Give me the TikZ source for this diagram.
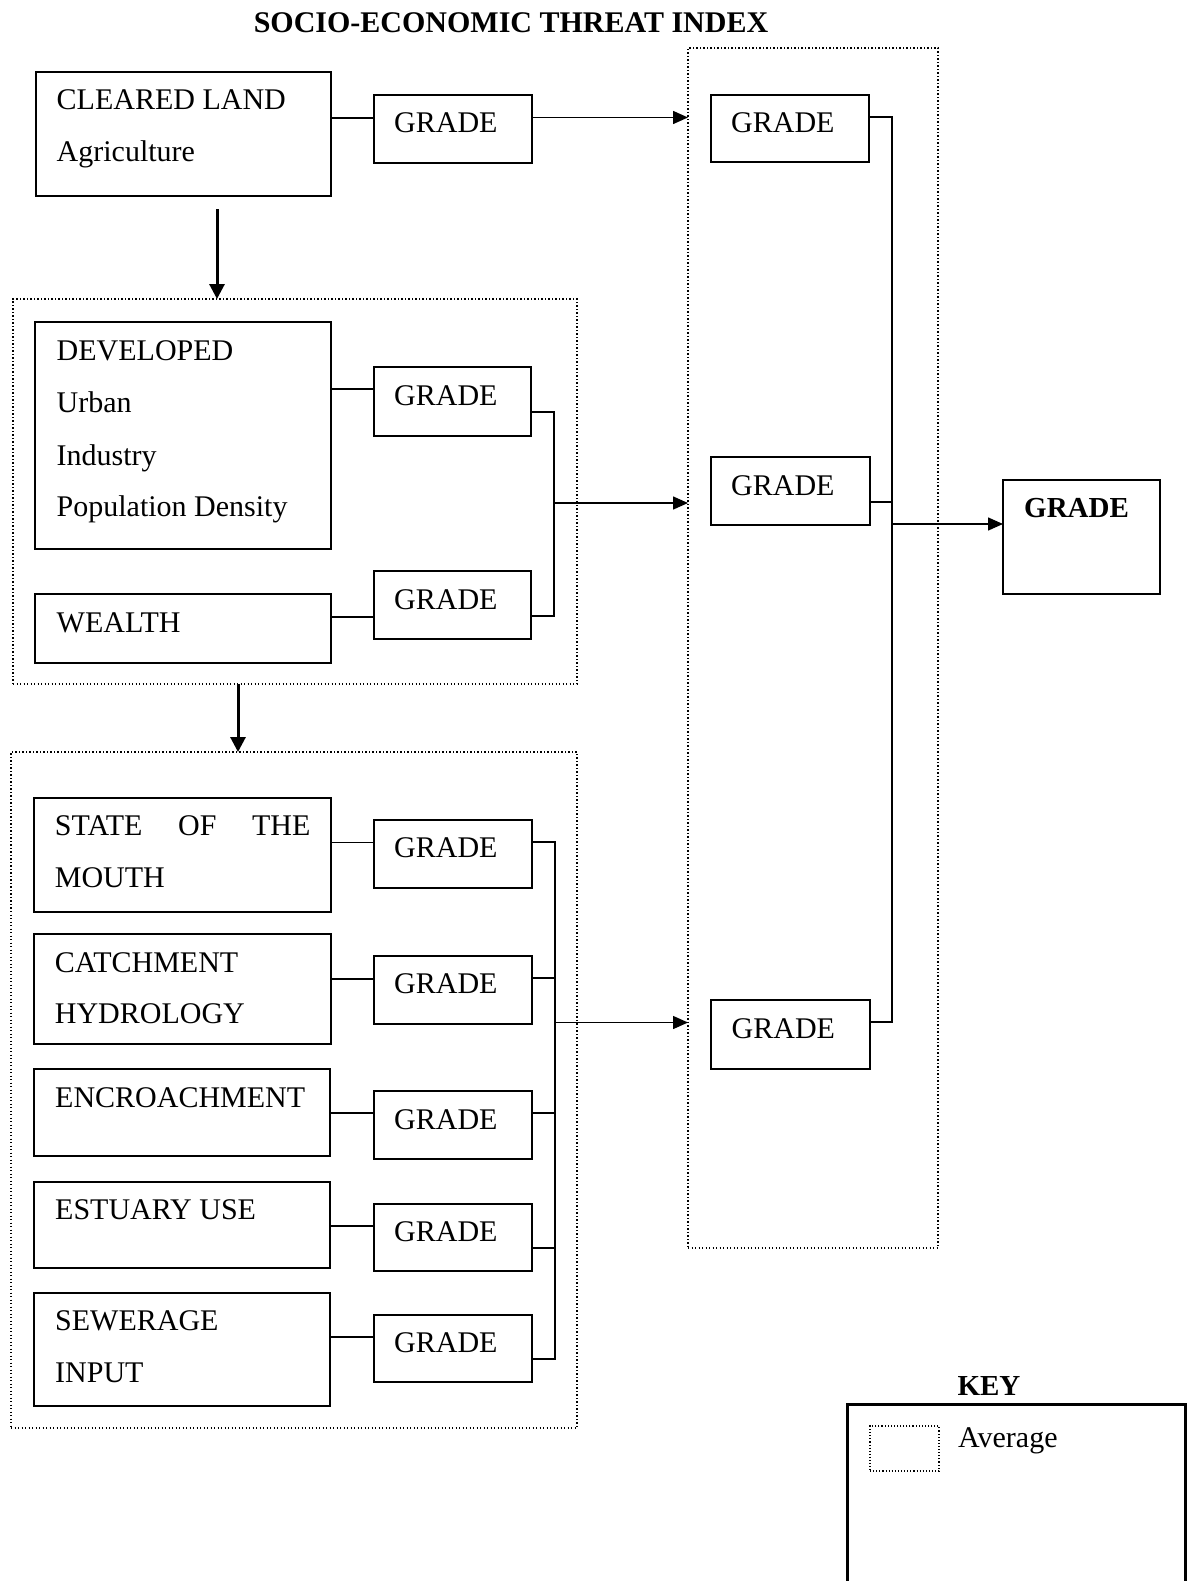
\documentclass[tikz,border=0pt]{standalone}
\usepackage{fontspec}
\setmainfont{Liberation Serif}
\usetikzlibrary{arrows.meta}
\begin{document}
\begin{tikzpicture}[x=1pt,y=-1pt,
  box/.style={draw,line width=1.5pt,rectangle,inner sep=0pt,outer sep=0pt,anchor=north west},
  avgbox/.style={draw,line width=1.8pt,dash pattern=on 1.3pt off 2.2pt,rectangle,inner sep=0pt,outer sep=0pt,anchor=north west},
  txt/.style={anchor=base west,inner sep=0pt,font=\fontsize{30}{36}\selectfont},
  btxt/.style={anchor=base west,inner sep=0pt,font=\fontsize{29}{34}\selectfont\bfseries},
  conn/.style={line width=1.5pt},
  arr/.style={line width=1.5pt,-{Triangle[length=15pt,width=13pt]}},
  tharr/.style={line width=3pt,-{Triangle[length=15pt,width=15pt]}}
]
\useasboundingbox (0,0) rectangle (1190,1581);
\fill[white] (0,0) rectangle (1190,1581);

% title
\node[btxt,anchor=base,font=\fontsize{30}{36}\selectfont\bfseries] (title) at (511,33) {SOCIO-ECONOMIC THREAT INDEX};

% average (dotted) boxes
\node[avgbox,minimum width=564pt,minimum height=385pt] (av1) at (13,299) {};
\node[avgbox,minimum width=566pt,minimum height=676pt] (av2) at (11,752) {};
\node[avgbox,minimum width=250pt,minimum height=1200pt] (av3) at (688,48) {};

% left boxes
\node[box,minimum width=295pt,minimum height=124pt] (cl) at (36,72) {};
\node[txt] (clt1) at (56.5,110) {CLEARED LAND};
\node[txt] (clt2) at (56.5,162) {Agriculture};
\node[box,minimum width=158pt,minimum height=68pt] (g1) at (374,95) {};
\node[txt] (g1t) at (394,133) {GRADE};

\node[box,minimum width=296pt,minimum height=227pt] (dev) at (35,322) {};
\node[txt] (devt1) at (56.5,360) {DEVELOPED};
\node[txt] (devt2) at (56.5,412) {Urban};
\node[txt] (devt3) at (56.5,465) {Industry};
\node[txt] (devt4) at (56.5,516) {Population Density};
\node[box,minimum width=157pt,minimum height=69pt] (g2) at (374,367) {};
\node[txt] (g2t) at (394,405.5) {GRADE};

\node[box,minimum width=296pt,minimum height=69pt] (wl) at (35,594) {};
\node[txt] (wlt) at (56.5,632) {WEALTH};
\node[box,minimum width=157pt,minimum height=68pt] (g3) at (374,571) {};
\node[txt] (g3t) at (394,609) {GRADE};

\node[box,minimum width=297pt,minimum height=114pt] (st) at (34,798) {};
\node[txt] (stt1) at (54.7,835) {\makebox[255.5pt][s]{STATE\hfill OF\hfill THE}};
\node[txt] (stt2) at (54.7,887) {MOUTH};
\node[box,minimum width=158pt,minimum height=68pt] (g4) at (374,820) {};
\node[txt] (g4t) at (394,857) {GRADE};

\node[box,minimum width=297pt,minimum height=110pt] (ca) at (34,934) {};
\node[txt] (cat1) at (54.7,972) {CATCHMENT};
\node[txt] (cat2) at (54.7,1023) {HYDROLOGY};
\node[box,minimum width=158pt,minimum height=68pt] (g5) at (374,956) {};
\node[txt] (g5t) at (394,993) {GRADE};

\node[box,minimum width=296pt,minimum height=87pt] (en) at (34,1069) {};
\node[txt] (ent) at (55,1107) {ENCROACHMENT};
\node[box,minimum width=158pt,minimum height=68pt] (g6) at (374,1091) {};
\node[txt] (g6t) at (394,1129) {GRADE};

\node[box,minimum width=296pt,minimum height=86pt] (es) at (34,1182) {};
\node[txt] (est) at (55,1219) {ESTUARY USE};
\node[box,minimum width=158pt,minimum height=67pt] (g7) at (374,1204) {};
\node[txt] (g7t) at (394,1241) {GRADE};

\node[box,minimum width=296pt,minimum height=113pt] (se) at (34,1293) {};
\node[txt] (set1) at (55,1330) {SEWERAGE};
\node[txt] (set2) at (55,1382) {INPUT};
\node[box,minimum width=158pt,minimum height=67pt] (g8) at (374,1315) {};
\node[txt] (g8t) at (394,1352) {GRADE};

% right column
\node[box,minimum width=158pt,minimum height=67pt] (r1) at (711,95) {};
\node[txt] (r1t) at (731,133) {GRADE};
\node[box,minimum width=159pt,minimum height=68pt] (r2) at (711,457) {};
\node[txt] (r2t) at (731,495) {GRADE};
\node[box,minimum width=159pt,minimum height=69pt] (r3) at (711,1000) {};
\node[txt] (r3t) at (731.5,1038) {GRADE};

\node[box,minimum width=157pt,minimum height=114pt] (fin) at (1003,480) {};
\node[btxt] (fint) at (1024,517) {GRADE};

% key
\node[btxt,anchor=base] (keyt) at (989,1395) {KEY};
\coordinate (kbl) at (847,1590);
\coordinate (kbr) at (1185,1590);
\draw[line width=3pt] (kbl) -- (847,1404) -- (1185,1404) -- (kbr);
\node[avgbox,minimum width=69pt,minimum height=45pt,line width=1.5pt,dash pattern=on 1.1pt off 2pt] (ks) at (870,1426) {};
\node[txt] (kst) at (958,1447) {Average};

% connectors: box to grade
\draw[conn] (cl.east |- 0,118) -- (g1.west |- 0,118);
\draw[conn] (dev.east |- 0,389) -- (g2.west |- 0,389);
\draw[conn] (wl.east |- 0,617) -- (g3.west |- 0,617);
\draw[conn] (st.east |- 0,842.5) -- (g4.west |- 0,842.5);
\draw[conn] (ca.east |- 0,979) -- (g5.west |- 0,979);
\draw[conn] (en.east |- 0,1113) -- (g6.west |- 0,1113);
\draw[conn] (es.east |- 0,1226) -- (g7.west |- 0,1226);
\draw[conn] (se.east |- 0,1337) -- (g8.west |- 0,1337);

% top grade arrow
\draw[arr] (g1.east |- 0,117.5) -- (av3.west |- 0,117.5);

% developed group bus
\coordinate (b2) at (554,503);
\draw[conn] (g2.east |- 0,412) -| (b2) |- (g3.east |- 0,616);
\draw[arr] (b2) -- (av3.west |- b2);

% lower group bus
\coordinate (b3) at (555,1022.5);
\draw[conn] (g4.east |- 0,842) -| (b3);
\draw[conn] (g5.east |- 0,978) -| (b3);
\draw[conn] (g6.east |- 0,1113) -| (b3);
\draw[conn] (g7.east |- 0,1248) -| (b3);
\draw[conn] (g8.east |- 0,1359) -| (b3);
\draw[arr] (b3) -- (av3.west |- b3);

% right bus
\coordinate (rb) at (892,524);
\draw[conn] (r1.east |- 0,117) -| (rb);
\draw[conn] (r2.east |- 0,502) -| (rb);
\draw[conn] (r3.east |- 0,1022) -| (rb);
\draw[arr] (rb) -- (fin.west |- rb);

% down arrows
\coordinate (d1) at (217,209);
\draw[tharr] (d1) -- (av1.north -| d1);
\draw[tharr] (av1.south -| 238,0) -- (av2.north -| 238,0);
\end{tikzpicture}
\end{document}
